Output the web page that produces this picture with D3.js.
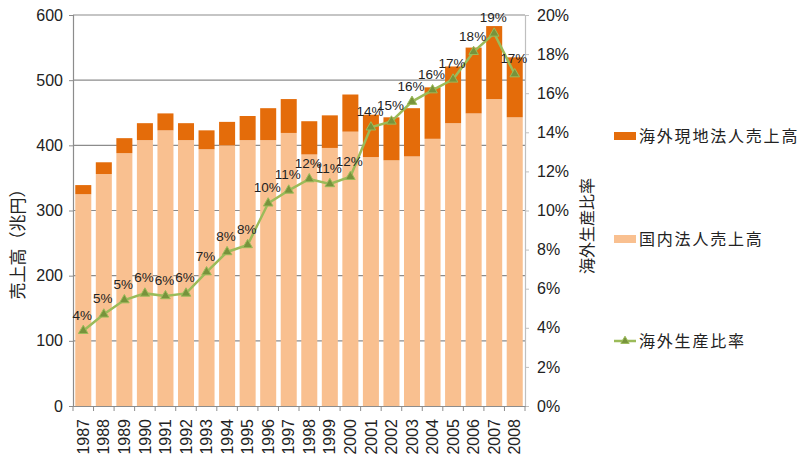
<!DOCTYPE html>
<html>
<head>
<meta charset="utf-8">
<script src="https://cdn.jsdelivr.net/npm/d3@7"></script>
<style>
  body { margin: 0; background: #fff; }
  svg { font-family: "Liberation Sans", Arial, sans-serif; }
</style>
</head>
<body>
<svg width="800" height="457"></svg>
<script>
var years = ["1987","1988","1989","1990","1991","1992","1993","1994","1995","1996","1997",
             "1998","1999","2000","2001","2002","2003","2004","2005","2006","2007","2008"];
// 国内法人売上高 (兆円)
var domestic = [325,356,388,408,423,408,394,400,408,408,419,386,396,421,382,377,383,410,434,449,471,443];
// 海外現地法人売上高 (兆円)
var overseas = [14,18,23,26,26,26,29,36,37,49,52,51,50,57,65,66,74,79,87,101,112,92];
// 海外生産比率 (%)
var ratio = [3.85,4.69,5.42,5.76,5.63,5.76,6.85,7.88,8.24,10.37,11.03,11.61,11.36,11.73,14.26,14.56,15.57,16.16,16.71,18.12,19.06,16.98];
var ratioLabels = ["4%","5%","5%","6%","6%","6%","7%","8%","8%","10%","11%","12%","11%","12%","14%","15%","16%","16%","17%","18%","19%","17%"];
var leftTicks = [0,100,200,300,400,500,600];
var rightTicks = [0,2,4,6,8,10,12,14,16,18,20];

var cOverseas = "#e46c0a", cDomestic = "#f9c090", cLine = "#9bbb59", cMarker = "#77933c";

var svg = d3.select("svg");
var pLeft = 73, pRight = 525, pTop = 15, pBottom = 406;

var x = d3.scaleBand().domain(years).range([pLeft, pRight]).paddingInner(0.22).paddingOuter(0.11);
var y = d3.scaleLinear().domain([0, 600]).range([pBottom, pTop]);
var y2 = d3.scaleLinear().domain([0, 20]).range([pBottom, pTop]);

// gridlines
svg.append("g").selectAll("line").data(leftTicks.slice(1)).enter().append("line")
  .attr("x1", pLeft).attr("x2", pRight)
  .attr("y1", function (d) { return y(d); }).attr("y2", function (d) { return y(d); })
  .attr("stroke", "#8c8c8c").attr("stroke-width", 1.2);

// stacked bars
var data = years.map(function (yr, i) { return { year: yr, dom: domestic[i], ovs: overseas[i] }; });
svg.append("g").selectAll("rect").data(data).enter().append("rect")
  .attr("x", function (d) { return x(d.year); })
  .attr("width", x.bandwidth())
  .attr("y", function (d) { return y(d.dom); })
  .attr("height", function (d) { return y(0) - y(d.dom); })
  .attr("fill", cDomestic);
svg.append("g").selectAll("rect").data(data).enter().append("rect")
  .attr("x", function (d) { return x(d.year); })
  .attr("width", x.bandwidth())
  .attr("y", function (d) { return y(d.dom + d.ovs); })
  .attr("height", function (d) { return y(d.dom) - y(d.dom + d.ovs); })
  .attr("fill", cOverseas);

// left axis
var axL = svg.append("g").attr("transform", "translate(" + pLeft + ",0)")
  .call(d3.axisLeft(y).tickValues(leftTicks).tickSize(4).tickPadding(6));
axL.select(".domain").attr("stroke", "#8c8c8c").attr("stroke-width", 1.2);
axL.selectAll(".tick line").attr("stroke", "#8c8c8c");
axL.selectAll("text").attr("font-size", 16).attr("fill", "#222");

// right axis
var axR = svg.append("g").attr("transform", "translate(" + pRight + ",0)")
  .call(d3.axisRight(y2).tickValues(rightTicks).tickSize(4).tickPadding(8)
    .tickFormat(function (d) { return d + "%"; }));
axR.select(".domain").attr("stroke", "#bfbfbf").attr("stroke-width", 1.2);
axR.selectAll(".tick line").attr("stroke", "#bfbfbf");
axR.selectAll("text").attr("font-size", 16).attr("fill", "#222");

// bottom axis
var axB = svg.append("g").attr("transform", "translate(0," + pBottom + ")")
  .call(d3.axisBottom(x).tickSize(0).tickPadding(0));
axB.select(".domain").attr("stroke", "#8c8c8c").attr("stroke-width", 1.2);
axB.selectAll("text")
  .attr("transform", "rotate(-90)")
  .attr("text-anchor", "end")
  .attr("x", -13).attr("y", 0).attr("dy", "0.35em")
  .attr("font-size", 16).attr("fill", "#222");
var step = x.step();
svg.append("g").selectAll("line").data(d3.range(years.length + 1)).enter().append("line")
  .attr("x1", function (i) { return pLeft + i * step; })
  .attr("x2", function (i) { return pLeft + i * step; })
  .attr("y1", pBottom).attr("y2", pBottom + 5)
  .attr("stroke", "#8c8c8c");

// line series
var line = d3.line()
  .x(function (d, i) { return x(years[i]) + x.bandwidth() / 2; })
  .y(function (d) { return y2(d); });
svg.append("path").datum(ratio)
  .attr("d", line).attr("fill", "none")
  .attr("stroke", cLine).attr("stroke-width", 2.5);
var tri = d3.symbol().type(d3.symbolTriangle).size(40);
svg.append("g").selectAll("path").data(ratio).enter().append("path")
  .attr("d", tri)
  .attr("transform", function (d, i) { return "translate(" + (x(years[i]) + x.bandwidth() / 2) + "," + y2(d) + ")"; })
  .attr("fill", cMarker).attr("stroke", cLine).attr("stroke-width", 1);
svg.append("g").selectAll("text").data(ratio).enter().append("text")
  .attr("x", function (d, i) { return x(years[i]) + x.bandwidth() / 2 - 1; })
  .attr("y", function (d) { return y2(d) - 11; })
  .attr("text-anchor", "middle")
  .attr("font-size", 13.5).attr("fill", "#222")
  .text(function (d, i) { return ratioLabels[i]; });

// axis titles
svg.append("text")
  .attr("transform", "translate(24,240) rotate(-90)")
  .attr("text-anchor", "middle")
  .attr("font-family", "'Noto Sans CJK JP', sans-serif")
  .attr("font-size", 17).attr("fill", "#222")
  .text("売上高（兆円）");
svg.append("text")
  .attr("transform", "translate(593,226) rotate(-90)")
  .attr("text-anchor", "middle")
  .attr("font-family", "'Noto Sans CJK JP', sans-serif")
  .attr("font-size", 16).attr("fill", "#222")
  .text("海外生産比率");

// legend
var legend = [
  { label: "海外現地法人売上高", type: "rect", color: cOverseas, cy: 136 },
  { label: "国内法人売上高", type: "rect", color: cDomestic, cy: 239 },
  { label: "海外生産比率", type: "line", color: cLine, cy: 341 }
];
var lg = svg.append("g").selectAll("g").data(legend).enter().append("g")
  .attr("transform", function (d) { return "translate(614," + d.cy + ")"; });
lg.filter(function (d) { return d.type === "rect"; }).append("rect")
  .attr("x", 0).attr("y", -4).attr("width", 22).attr("height", 8)
  .attr("fill", function (d) { return d.color; });
lg.filter(function (d) { return d.type === "line"; }).append("line")
  .attr("x1", 0).attr("x2", 22).attr("y1", 0).attr("y2", 0)
  .attr("stroke", cLine).attr("stroke-width", 2.5);
lg.filter(function (d) { return d.type === "line"; }).append("path")
  .attr("d", d3.symbol().type(d3.symbolTriangle).size(30))
  .attr("transform", "translate(11,0)")
  .attr("fill", cMarker).attr("stroke", cLine);
lg.append("text")
  .attr("x", 25).attr("y", 0).attr("dy", "0.38em")
  .attr("font-family", "'Noto Sans CJK JP', sans-serif")
  .attr("font-size", 16).attr("letter-spacing", 1.8).attr("fill", "#222")
  .text(function (d) { return d.label; });
</script>
</body>
</html>
